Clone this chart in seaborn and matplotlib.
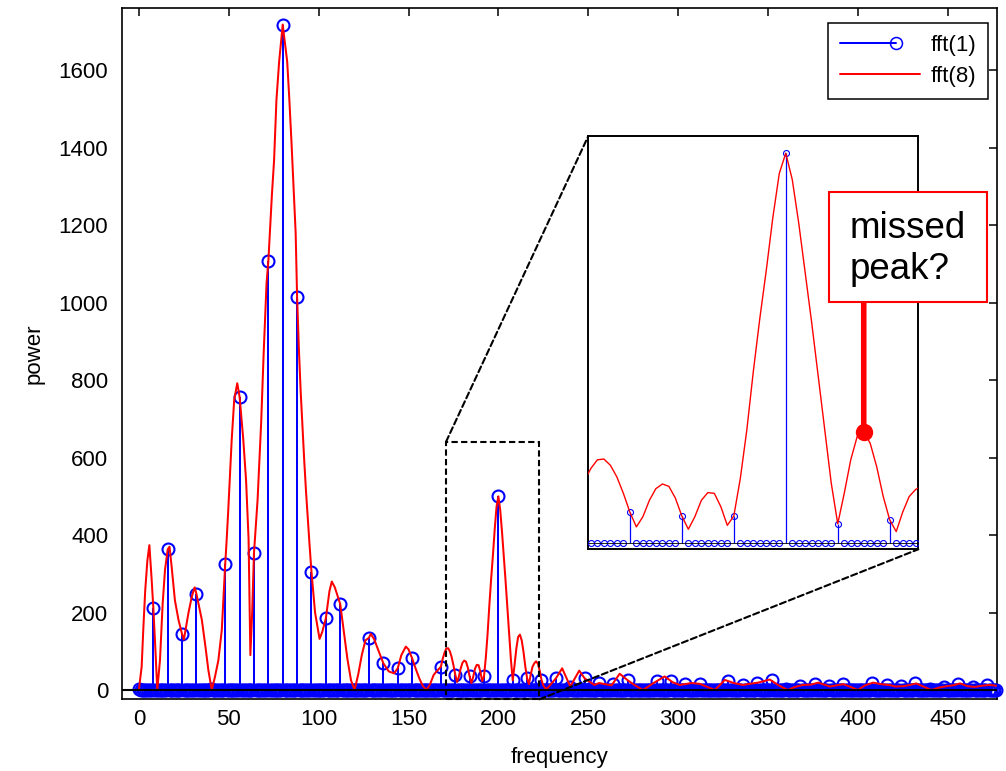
import numpy as np
import pandas as pd
import matplotlib
matplotlib.use("Agg")
import matplotlib.pyplot as plt
import matplotlib.transforms as mtransforms
import seaborn as sns
from matplotlib.lines import Line2D
from matplotlib.patches import Rectangle, ConnectionPatch
from matplotlib.legend_handler import HandlerBase

# ---------------------------------------------------------------
# Data
# ---------------------------------------------------------------
# fft(1): one bin every 8 Hz (0 ... 472 Hz)
bin_freq = list(range(0, 480, 8))
bin_power = [2, 212, 363, 144, 248, 3, 325, 757, 353, 1107,
             1718, 1015, 305, 185, 222, 1, 135, 69, 56, 82,
             1, 60, 40, 35, 35, 500, 25, 30, 26, 30,
             9, 30, 18, 15, 25, 1, 24, 23, 15, 16,
             1, 23, 13, 19, 25, 2, 11, 16, 10, 15,
             0, 19, 14, 10, 17, 2, 9, 16, 9, 12]

# fft(8): 8x zero-padded spectrum
pad_freq = [0, 1.5, 2.5, 3.5, 4.7, 5.8, 7, 8, 9.2, 10.2,
            11.7, 13.2, 14.5, 16, 17, 18.2, 20, 22, 24, 25,
            27.5, 29.4, 31, 32, 35, 37, 38.6, 40.5, 42.3, 44.2,
            46.1, 48, 48.8, 49.7, 50.7, 51.6, 53, 54.7, 56, 58,
            59.6, 61, 62, 63, 64, 66, 68, 69.4, 71, 72,
            74, 75.2, 76.5, 78, 80, 82.5, 83.7, 85, 86.2, 87.2,
            88, 89, 90, 91, 92, 93, 94, 95, 96, 98,
            100.5, 102, 104, 106, 107.3, 109, 112, 114, 116, 118,
            120, 122, 124, 126, 128, 129, 131, 133, 136, 139,
            142, 144, 146, 148.5, 150, 152, 154, 156, 158, 160,
            162, 164, 166, 168, 169,
            170, 171, 172, 173, 174, 175, 176, 177, 178, 179,
            180, 181, 182, 183, 184, 185, 186, 187, 188, 189,
            190, 191, 192, 193, 194, 195, 196, 197, 198, 199,
            200, 201, 202, 203, 204, 205, 206, 207, 208, 209,
            210, 211, 212, 213, 214, 215, 216, 217, 218, 219,
            220, 221, 222, 223, 224, 225, 226, 227, 232, 235.5,
            240, 245, 248, 253.5, 256, 263, 267.5, 272, 276, 280.5,
            286, 292.5, 297, 301, 307.5, 312, 320.5, 326, 331, 336,
            340, 344.5, 351, 356, 361, 365, 369.5, 374, 378, 384.5,
            388, 392, 396, 400, 404, 408.5, 413, 417.5, 421, 425.5,
            429, 432.5, 436, 441, 445, 449.5, 453, 457, 461, 465,
            469, 473.5, 477]
pad_power = [2, 60, 165, 258, 335, 374, 290, 212, 100, 0,
             77, 224, 310, 363, 370, 318, 232, 181, 144, 130,
             198, 241, 265, 248, 181, 112, 52, 0, 34, 77,
             155, 325, 387, 465, 559, 645, 749, 792, 757, 650,
             542, 390, 90, 200, 353, 490, 690, 870, 1050, 1107,
             1280, 1368, 1523, 1622, 1718, 1622, 1523, 1402, 1282, 1180,
             1015, 880, 770, 680, 590, 510, 440, 370, 305, 200,
             132, 150, 185, 255, 280, 265, 222, 150, 80, 25,
             0, 40, 90, 128, 135, 145, 130, 105, 69, 48,
             43, 56, 90, 112, 105, 82, 55, 30, 10, 0,
             15, 39, 50, 60, 80,
             96, 107, 108, 100, 85, 64, 40, 21, 34, 55,
             70, 76, 73, 58, 35, 18, 34, 55, 65, 64,
             47, 23, 35, 83, 145, 220, 288, 350, 417, 474,
             500, 466, 410, 346, 282, 214, 145, 77, 25, 64,
             107, 137, 143, 128, 98, 60, 30, 15, 40, 60,
             69, 74, 68, 50, 26, 12, 5, 3, 30, 56,
             9, 50, 30, 13, 18, 12, 42, 25, 12, 0,
             17, 35, 20, 13, 18, 16, 0, 26, 18, 13,
             16, 19, 27, 12, 0, 8, 13, 14, 19, 9,
             12, 15, 8, 0, 12, 19, 15, 13, 9, 10,
             13, 17, 10, 0, 6, 10, 12, 17, 10, 8,
             11, 13, 11]

x_ticks = [0, 50, 100, 150, 200, 250, 300, 350, 400, 450]
y_ticks = [0, 200, 400, 600, 800, 1000, 1200, 1400, 1600]
series_labels = ["fft(1)", "fft(8)"]
note_text = ["missed", "peak?"]
missed_peak = (212, 143)

# fft(1) shown on the 1 Hz grid of fft(8): zeros between the 8 Hz bins
fine_freq = np.arange(0, 478)
fine_power = np.zeros(len(fine_freq))
fine_power[np.array(bin_freq)] = bin_power
pad_df = pd.DataFrame({"frequency": pad_freq, "power": pad_power})

BLUE = "#0000ff"
RED = "#ff0000"

# ---------------------------------------------------------------
# Style
# ---------------------------------------------------------------
sns.set_theme(style="white")
plt.rcParams["font.family"] = ["Liberation Sans", "DejaVu Sans"]
plt.rcParams["axes.edgecolor"] = "black"
plt.rcParams["text.color"] = "black"
plt.rcParams["xtick.color"] = "black"
plt.rcParams["ytick.color"] = "black"
plt.rcParams["axes.labelcolor"] = "black"

W, H = 1006, 771
fig = plt.figure(figsize=(W / 100, H / 100), dpi=100)
fig.patch.set_facecolor("white")


def fx(px):
    return px / W


def fy(py):
    return 1 - py / H


ax = fig.add_axes([fx(121.7), fy(699.3), fx(996.7) - fx(121.7), fy(8.3) - fy(699.3)])
ax.set_facecolor("white")


def draw_spectra(a, ms, mew, stem_lw, red_lw, base_lw, clip_markers):
    markers, stems, base = a.stem(fine_freq, fine_power, basefmt=" ")
    stems.set_color(BLUE)
    stems.set_linewidth(stem_lw)
    stems.set_zorder(2)
    markers.set_marker("o")
    markers.set_markerfacecolor("none")
    markers.set_markeredgecolor(BLUE)
    markers.set_markersize(ms)
    markers.set_markeredgewidth(mew)
    markers.set_zorder(3)
    markers.set_clip_on(clip_markers)
    sns.lineplot(data=pad_df, x="frequency", y="power", ax=a, color=RED,
                 linewidth=red_lw, zorder=3.5, legend=False, sort=False)
    a.axhline(0, color="black", linewidth=base_lw, zorder=4)


# main spectrum
draw_spectra(ax, ms=8.6, mew=1.5, stem_lw=1.45, red_lw=1.45, base_lw=1.5, clip_markers=False)
ax.set_xlim(-9.6, 477.3)
ax.set_ylim(-24, 1760)
ax.set_xticks(x_ticks)
ax.set_yticks(y_ticks)
ax.set_xticklabels([str(v) for v in x_ticks])
ax.set_yticklabels([str(v) for v in y_ticks])
ax.tick_params(direction="in", length=5.8, width=1.1, top=True, right=True,
               labelsize=16, colors="black")
ax.tick_params(axis="y", pad=9.6)
ax.tick_params(axis="x", pad=7.0)
for sp in ax.spines.values():
    sp.set_linewidth(1.2)
    sp.set_color("black")
ax.set_xlabel("frequency", fontsize=16, labelpad=12)
ax.set_ylabel("power", fontsize=16, labelpad=10)


# legend: stem key is a line ending in a circle
class StemKeyHandler(HandlerBase):
    def create_artists(self, legend, orig_handle, xdescent, ydescent,
                       width, height, fontsize, trans):
        y = (height - ydescent) / 2
        x_end = -xdescent + 0.7 * width
        line = Line2D([-xdescent, x_end], [y, y], color=BLUE, linewidth=1.45)
        mark = Line2D([x_end], [y], linestyle="none", marker="o",
                      markerfacecolor="none", markeredgecolor=BLUE,
                      markersize=8.6, markeredgewidth=1.1)
        line.set_transform(trans)
        mark.set_transform(trans)
        return [line, mark]


stem_key = Line2D([], [], color=BLUE)
red_key = Line2D([], [], color=RED, linewidth=1.45)
leg = ax.legend([stem_key, red_key], series_labels,
                handler_map={stem_key: StemKeyHandler()},
                loc="upper right", bbox_to_anchor=(0.9904, 0.979),
                borderaxespad=0, fontsize=16, frameon=True, fancybox=False,
                framealpha=1, edgecolor="black", borderpad=0.55,
                labelspacing=0.45, handlelength=3.6, handletextpad=0.45)
leg.get_frame().set_linewidth(1.1)

# zoom window on the main spectrum
zoom_f0, zoom_f1, zoom_p0, zoom_p1 = 170.9, 222.8, -24, 641
dash = (0, (3, 1.6))
ax.add_patch(Rectangle((zoom_f0, zoom_p0), zoom_f1 - zoom_f0, zoom_p1 - zoom_p0,
                       fill=False, edgecolor="black", linewidth=1.5,
                       linestyle=dash, zorder=6, clip_on=False))

# inset: detail around 200 Hz
ax_in = fig.add_axes([fx(588.3), fy(549.3), fx(918.3) - fx(588.3), fy(136) - fy(549.3)])
ax_in.set_facecolor("white")
draw_spectra(ax_in, ms=4.3, mew=0.8, stem_lw=0.9, red_lw=1.0, base_lw=0.6, clip_markers=True)
ax_in.set_xlim(169.6, 220.4)
ax_in.set_ylim(-7.7, 522)
ax_in.set_xticks([])
ax_in.set_yticks([])
ax_in.set_xlabel("")
ax_in.set_ylabel("")
for sp in ax_in.spines.values():
    sp.set_linewidth(1.4)
    sp.set_color("black")
ax_in.plot([missed_peak[0]], [missed_peak[1]], "o", color=RED, markersize=11.5,
           zorder=6, clip_on=False)

# dashed connectors from the zoom window to the inset
for xy_main, xy_in in [((zoom_f0, zoom_p1), (0, 1)), ((zoom_f1, zoom_p0), (1, 0))]:
    con = ConnectionPatch(xyA=xy_main, coordsA=ax.transData,
                          xyB=xy_in, coordsB=ax_in.transAxes,
                          color="black", linewidth=1.5, linestyle=dash)
    fig.add_artist(con)

# callout box
box_left, box_top, box_right, box_bottom = 829.3, 191.7, 987.3, 301.7
pin = ConnectionPatch(xyA=missed_peak, coordsA=ax_in.transData,
                      xyB=(missed_peak[0], fy(box_bottom)),
                      coordsB=mtransforms.blended_transform_factory(ax_in.transData, fig.transFigure),
                      color=RED, linewidth=4.0)
fig.add_artist(pin)
fig.add_artist(Rectangle((fx(box_left), fy(box_bottom)), fx(box_right) - fx(box_left),
                         fy(box_top) - fy(box_bottom), transform=fig.transFigure,
                         facecolor="white", edgecolor=RED, linewidth=1.5))
fig.text(fx(849.3), fy(238.3), note_text[0], fontsize=26.5, ha="left", va="baseline")
fig.text(fx(849.3), fy(279.3), note_text[1], fontsize=26.5, ha="left", va="baseline")

fig.savefig("out.png", dpi=100, facecolor="white")
